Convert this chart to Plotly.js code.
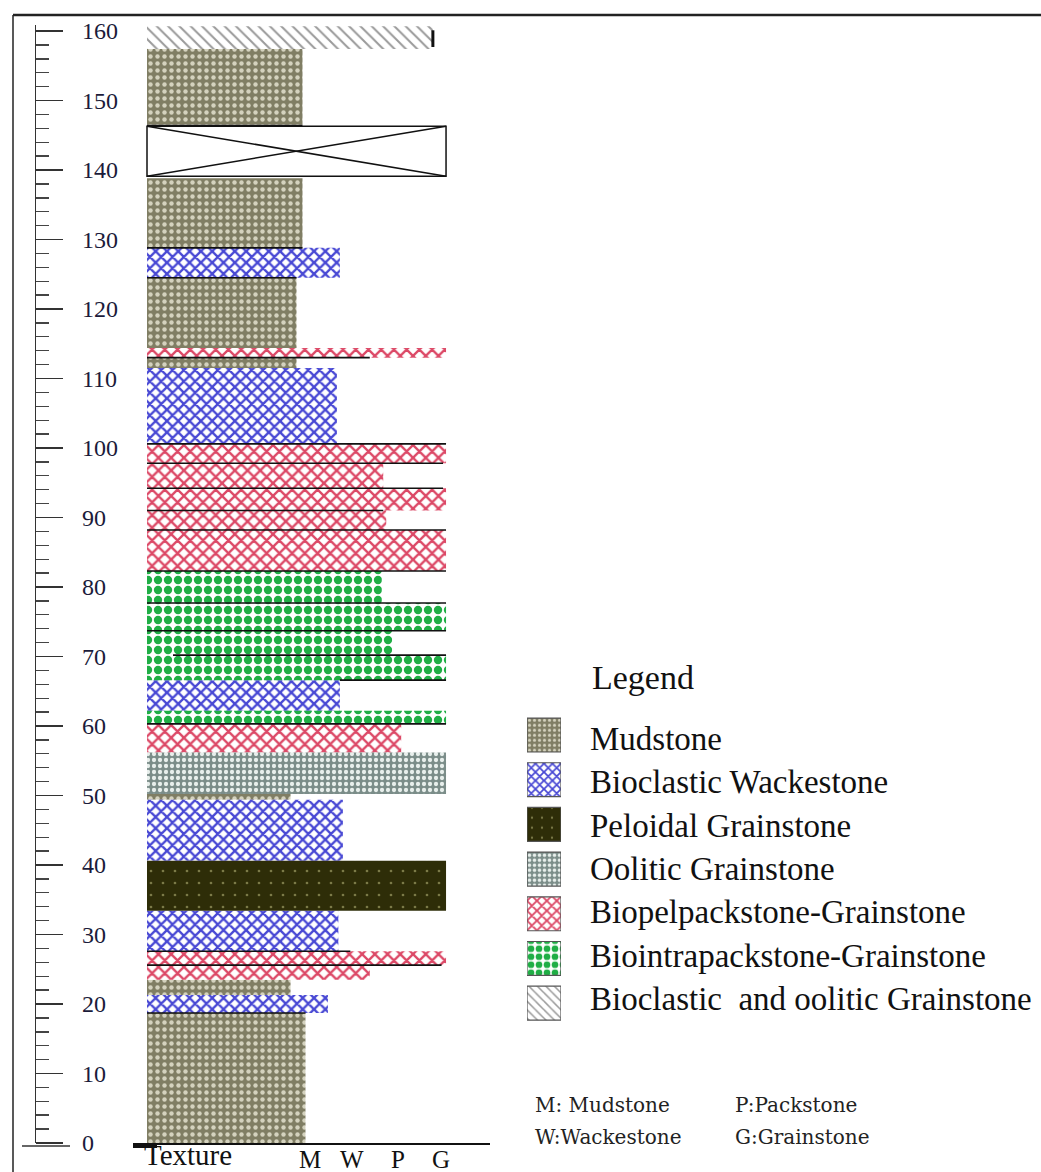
<!DOCTYPE html>
<html><head><meta charset="utf-8">
<script src="https://cdn.plot.ly/plotly-3.0.1.min.js"></script>
<style>html,body{margin:0;padding:0;background:#fff}#chart{width:1041px;height:1172px}</style>
</head><body><div id="chart"></div>
<script>
// ---------- data ----------
const depthTickVals = [0,10,20,30,40,50,60,70,80,90,100,110,120,130,140,150,160];
const depthTickText = ['0','10','20','30','40','50','60','70','80','90','100','110','120','130','140','150','160'];
const textureTickVals = [54.5, 68.6, 84, 98.3];
const textureTickText = ['M','W','P','G'];

const layerBottom = [0,18.7,21.3,23.5,25.6,27.6,33.4,40.6,49.4,50.2,56.2,60.3,62.2,66.6,70.2,73.7,77.7,82.3,88.2,91.0,94.2,97.8,100.6,111.5,113.0,114.4,124.5,128.8,139.1,146.5,157.4];
const layerTop    = [18.7,21.3,23.5,25.6,27.6,33.4,40.6,49.4,50.2,56.2,60.3,62.2,66.6,70.2,73.7,77.7,82.3,88.2,91.0,94.2,97.8,100.6,111.5,113.0,114.4,124.5,128.8,138.8,146.3,157.4,160.7];
const layerLithology = ['Mudstone','Bioclastic Wackestone','Mudstone','Biopelpackstone-Grainstone','Biopelpackstone-Grainstone','Bioclastic Wackestone','Peloidal Grainstone','Bioclastic Wackestone','Mudstone','Oolitic Grainstone','Biopelpackstone-Grainstone','Biointrapackstone-Grainstone','Bioclastic Wackestone','Biointrapackstone-Grainstone','Biointrapackstone-Grainstone','Biointrapackstone-Grainstone','Biointrapackstone-Grainstone','Biopelpackstone-Grainstone','Biopelpackstone-Grainstone','Biopelpackstone-Grainstone','Biopelpackstone-Grainstone','Biopelpackstone-Grainstone','Bioclastic Wackestone','Mudstone','Biopelpackstone-Grainstone','Mudstone','Bioclastic Wackestone','Mudstone','Covered','Mudstone','Bioclastic and oolitic Grainstone'];
const layerTexture = [53,60.5,48,74.5,100,64,100,65.5,48,100,85,100,64.5,100,82,100,78.5,100,80,100,79,100,63.5,50,100,50,64.5,52,100,52,95.6];

const boundaryDepth = [128.8,124.5,113.0,100.6,97.8,94.2,91.0,88.2,82.3,77.7,73.7,70.2,66.6,60.3,27.6,25.6,18.7,146.4];
const boundaryFrom  = [0,0,0,0,0,0,0,0,0,0,0,8.7,64.5,0,0,0,0,0];
const boundaryTo    = [52,50,74.5,100,99,99,79,100,100,100,100,100,100,100,68,98.5,53,52];

const legendNames = ['Mudstone','Bioclastic Wackestone','Peloidal Grainstone','Oolitic Grainstone','Biopelpackstone-Grainstone','Biointrapackstone-Grainstone','Bioclastic and oolitic Grainstone'];
const legendLabels = ['Mudstone','Bioclastic Wackestone','Peloidal Grainstone','Oolitic Grainstone','Biopelpackstone-Grainstone','Biointrapackstone-Grainstone','Bioclastic\u00a0 and oolitic Grainstone'];
const abbrevText = ['M: Mudstone','P:Packstone','W:Wackestone','G:Grainstone'];

// ---------- styles ----------
const styles = {
  'Mudstone': {bg:'#807e64', shape:'.', fg:'#d4d2be', size:7, sol:0.32},
  'Bioclastic Wackestone': {bg:'#ffffff', shape:'x', fg:'#4848d4', size:8, sol:0.5},
  'Peloidal Grainstone': {bg:'#2e2d08', shape:'.', fg:'#7b7a48', size:12, sol:0.04},
  'Oolitic Grainstone': {bg:'#7b8d89', shape:'.', fg:'#e8efec', size:6, sol:0.4},
  'Biopelpackstone-Grainstone': {bg:'#ffffff', shape:'x', fg:'#dc4866', size:9, sol:0.45},
  'Biointrapackstone-Grainstone': {bg:'#ffffff', shape:'.', fg:'#1fae45', size:10, sol:0.55},
  'Bioclastic and oolitic Grainstone': {bg:'#ffffff', shape:'\\', fg:'#9a9a9a', size:8, sol:0.25},
  'Covered': {bg:'#ffffff', shape:'', fg:'#000000', size:8, sol:0.3}
};

const W = 1041, H = 1172, MT = 25, MB = 29;
const plotH = H - MT - MB;
const fx = px => px / W;
const fy = px => (H - MB - px) / plotH;

const traces = [];
const liths = [...new Set(layerLithology)];
liths.forEach(l => {
  const idx = layerLithology.map((v,i)=>v===l?i:-1).filter(i=>i>=0);
  const s = styles[l];
  traces.push({
    type:'bar', orientation:'h', xaxis:'x', yaxis:'y',
    x: idx.map(i=>layerTexture[i]),
    y: idx.map(i=>(layerBottom[i]+layerTop[i])/2),
    width: idx.map(i=>layerTop[i]-layerBottom[i]),
    base: idx.map(()=>0),
    marker:{color:s.bg,
      pattern:{shape:s.shape, fgcolor:s.fg, bgcolor:s.bg, size:s.size, solidity:s.sol},
      line:{color: l==='Covered' ? '#111' : 'rgba(0,0,0,0)', width: l==='Covered' ? 1.5 : 0}},
    hoverinfo:'skip'
  });
});

// covered interval cross
const cx = [], cy = [];
layerLithology.forEach((l,i)=>{
  if (l==='Covered') {
    cx.push(0, layerTexture[i], null, 0, layerTexture[i], null);
    cy.push(layerBottom[i], layerTop[i], null, layerTop[i], layerBottom[i], null);
  }
});
traces.push({type:'scatter', mode:'lines', x:cx, y:cy, line:{color:'#111', width:1.5}, hoverinfo:'skip'});

// boundary lines
const bx = [], by = [];
boundaryDepth.forEach((d,i)=>{ bx.push(boundaryFrom[i], boundaryTo[i], null); by.push(d,d,null); });
traces.push({type:'scatter', mode:'lines', x:bx, y:by, line:{color:'#111', width:1.6}, hoverinfo:'skip'});

// right edge mark on top layer
const ex = [], ey = [];
layerLithology.forEach((l,i)=>{
  if (l==='Bioclastic and oolitic Grainstone') { ex.push(layerTexture[i], layerTexture[i], null); ey.push(layerBottom[i]+0.3, layerTop[i]-0.6, null); }
});
traces.push({type:'scatter', mode:'lines', x:ex, y:ey, line:{color:'#111', width:3}, hoverinfo:'skip'});

// legend swatches, one trace each
legendNames.forEach((n,i)=>{
  const s = styles[n];
  traces.push({
    type:'bar', orientation:'h', xaxis:'x2', yaxis:'y2',
    x:[1], y:[i], base:[0], width:[0.76],
    marker:{color:s.bg,
      pattern:{shape:s.shape, fgcolor:s.fg, bgcolor:s.bg, size:Math.max(5, s.size-2), solidity:s.sol},
      line:{color:'#555', width:1.2}},
    hoverinfo:'skip'
  });
});

const serif = 'Liberation Serif, Times New Roman, serif';
const annotations = [];
legendLabels.forEach((t,i)=>{
  annotations.push({xref:'paper', yref:'paper', x:fx(588), y:fy(739 + 43.3*i), xanchor:'left', yanchor:'middle',
    text:t, showarrow:false, font:{family:serif, size:33, color:'#111'}});
});
annotations.push({xref:'paper', yref:'paper', x:fx(590), y:fy(677), xanchor:'left', yanchor:'middle',
  text:'Legend', showarrow:false, font:{family:serif, size:34, color:'#111'}});
const abbrevPos = [[533,1105],[733,1105],[533,1137],[733,1137]];
abbrevText.forEach((t,i)=>{
  annotations.push({xref:'paper', yref:'paper', x:fx(abbrevPos[i][0]), y:fy(abbrevPos[i][1]), xanchor:'left', yanchor:'middle',
    text:t, showarrow:false, font:{family:'DejaVu Serif, serif', size:20, color:'#222'}});
});
textureTickText.forEach((t,i)=>{
  annotations.push({xref:'x', yref:'paper', x:textureTickVals[i], y:fy(1159), xanchor:'center', yanchor:'middle',
    text:t, showarrow:false, font:{family:serif, size:25, color:'#111'}});
});
annotations.push({xref:'paper', yref:'paper', x:fx(188), y:fy(1155), xanchor:'center', yanchor:'middle',
  text:'Texture', showarrow:false, font:{family:serif, size:29, color:'#111'}});

const shapes = [
  {type:'line', xref:'paper', yref:'paper', x0:fx(13), x1:1, y0:fy(15), y1:fy(15), line:{color:'#222', width:2.5}},
  {type:'line', xref:'paper', yref:'paper', x0:fx(13), x1:fx(13), y0:fy(15), y1:fy(1172), line:{color:'#222', width:1.5}},
  {type:'line', xref:'paper', yref:'paper', x0:fx(22), x1:fx(70), y0:fy(1146), y1:fy(1146), line:{color:'#333', width:1.5}},
  {type:'rect', xref:'paper', yref:'paper', x0:fx(133), x1:fx(157), y0:fy(1148), y1:fy(1143), fillcolor:'#111', line:{width:0}}
];

const layout = {
  width:W, height:H, margin:{l:0, r:0, t:MT, b:MB},
  paper_bgcolor:'#ffffff', plot_bgcolor:'rgba(0,0,0,0)',
  showlegend:false, barmode:'overlay',
  xaxis:{domain:[fx(133), fx(490)], range:[-4.68, 114.7], anchor:'y',
    showline:true, linecolor:'#111', linewidth:1.5, showgrid:false, zeroline:false,
    tickmode:'array', tickvals:textureTickVals, ticktext:textureTickText, ticks:'',
    showticklabels:false},
  yaxis:{range:[0, plotH/6.95], domain:[0,1], anchor:'free', position:fx(35), side:'right',
    showline:true, linecolor:'#333', linewidth:1.2, showgrid:false, zeroline:false,
    tickmode:'array', tickvals:depthTickVals, ticktext:depthTickText,
    ticks:'outside', ticklen:27, tickwidth:1.6, tickcolor:'#333',
    ticklabelstandoff:14,
    tickfont:{family:serif, size:24, color:'#1b1b3a'},
    minor:{tickmode:'linear', tick0:0, dtick:2, ticks:'outside', ticklen:13, tickwidth:1.4, tickcolor:'#444'}},
  xaxis2:{domain:[fx(527), fx(561)], anchor:'y2', range:[0,1], visible:false},
  yaxis2:{domain:[fy(1025.5), fy(712.7)], anchor:'x2', range:[6.5,-0.5], visible:false},
  annotations, shapes
};

Plotly.newPlot('chart', traces, layout, {staticPlot:true, displayModeBar:false});
</script>
</body></html>
